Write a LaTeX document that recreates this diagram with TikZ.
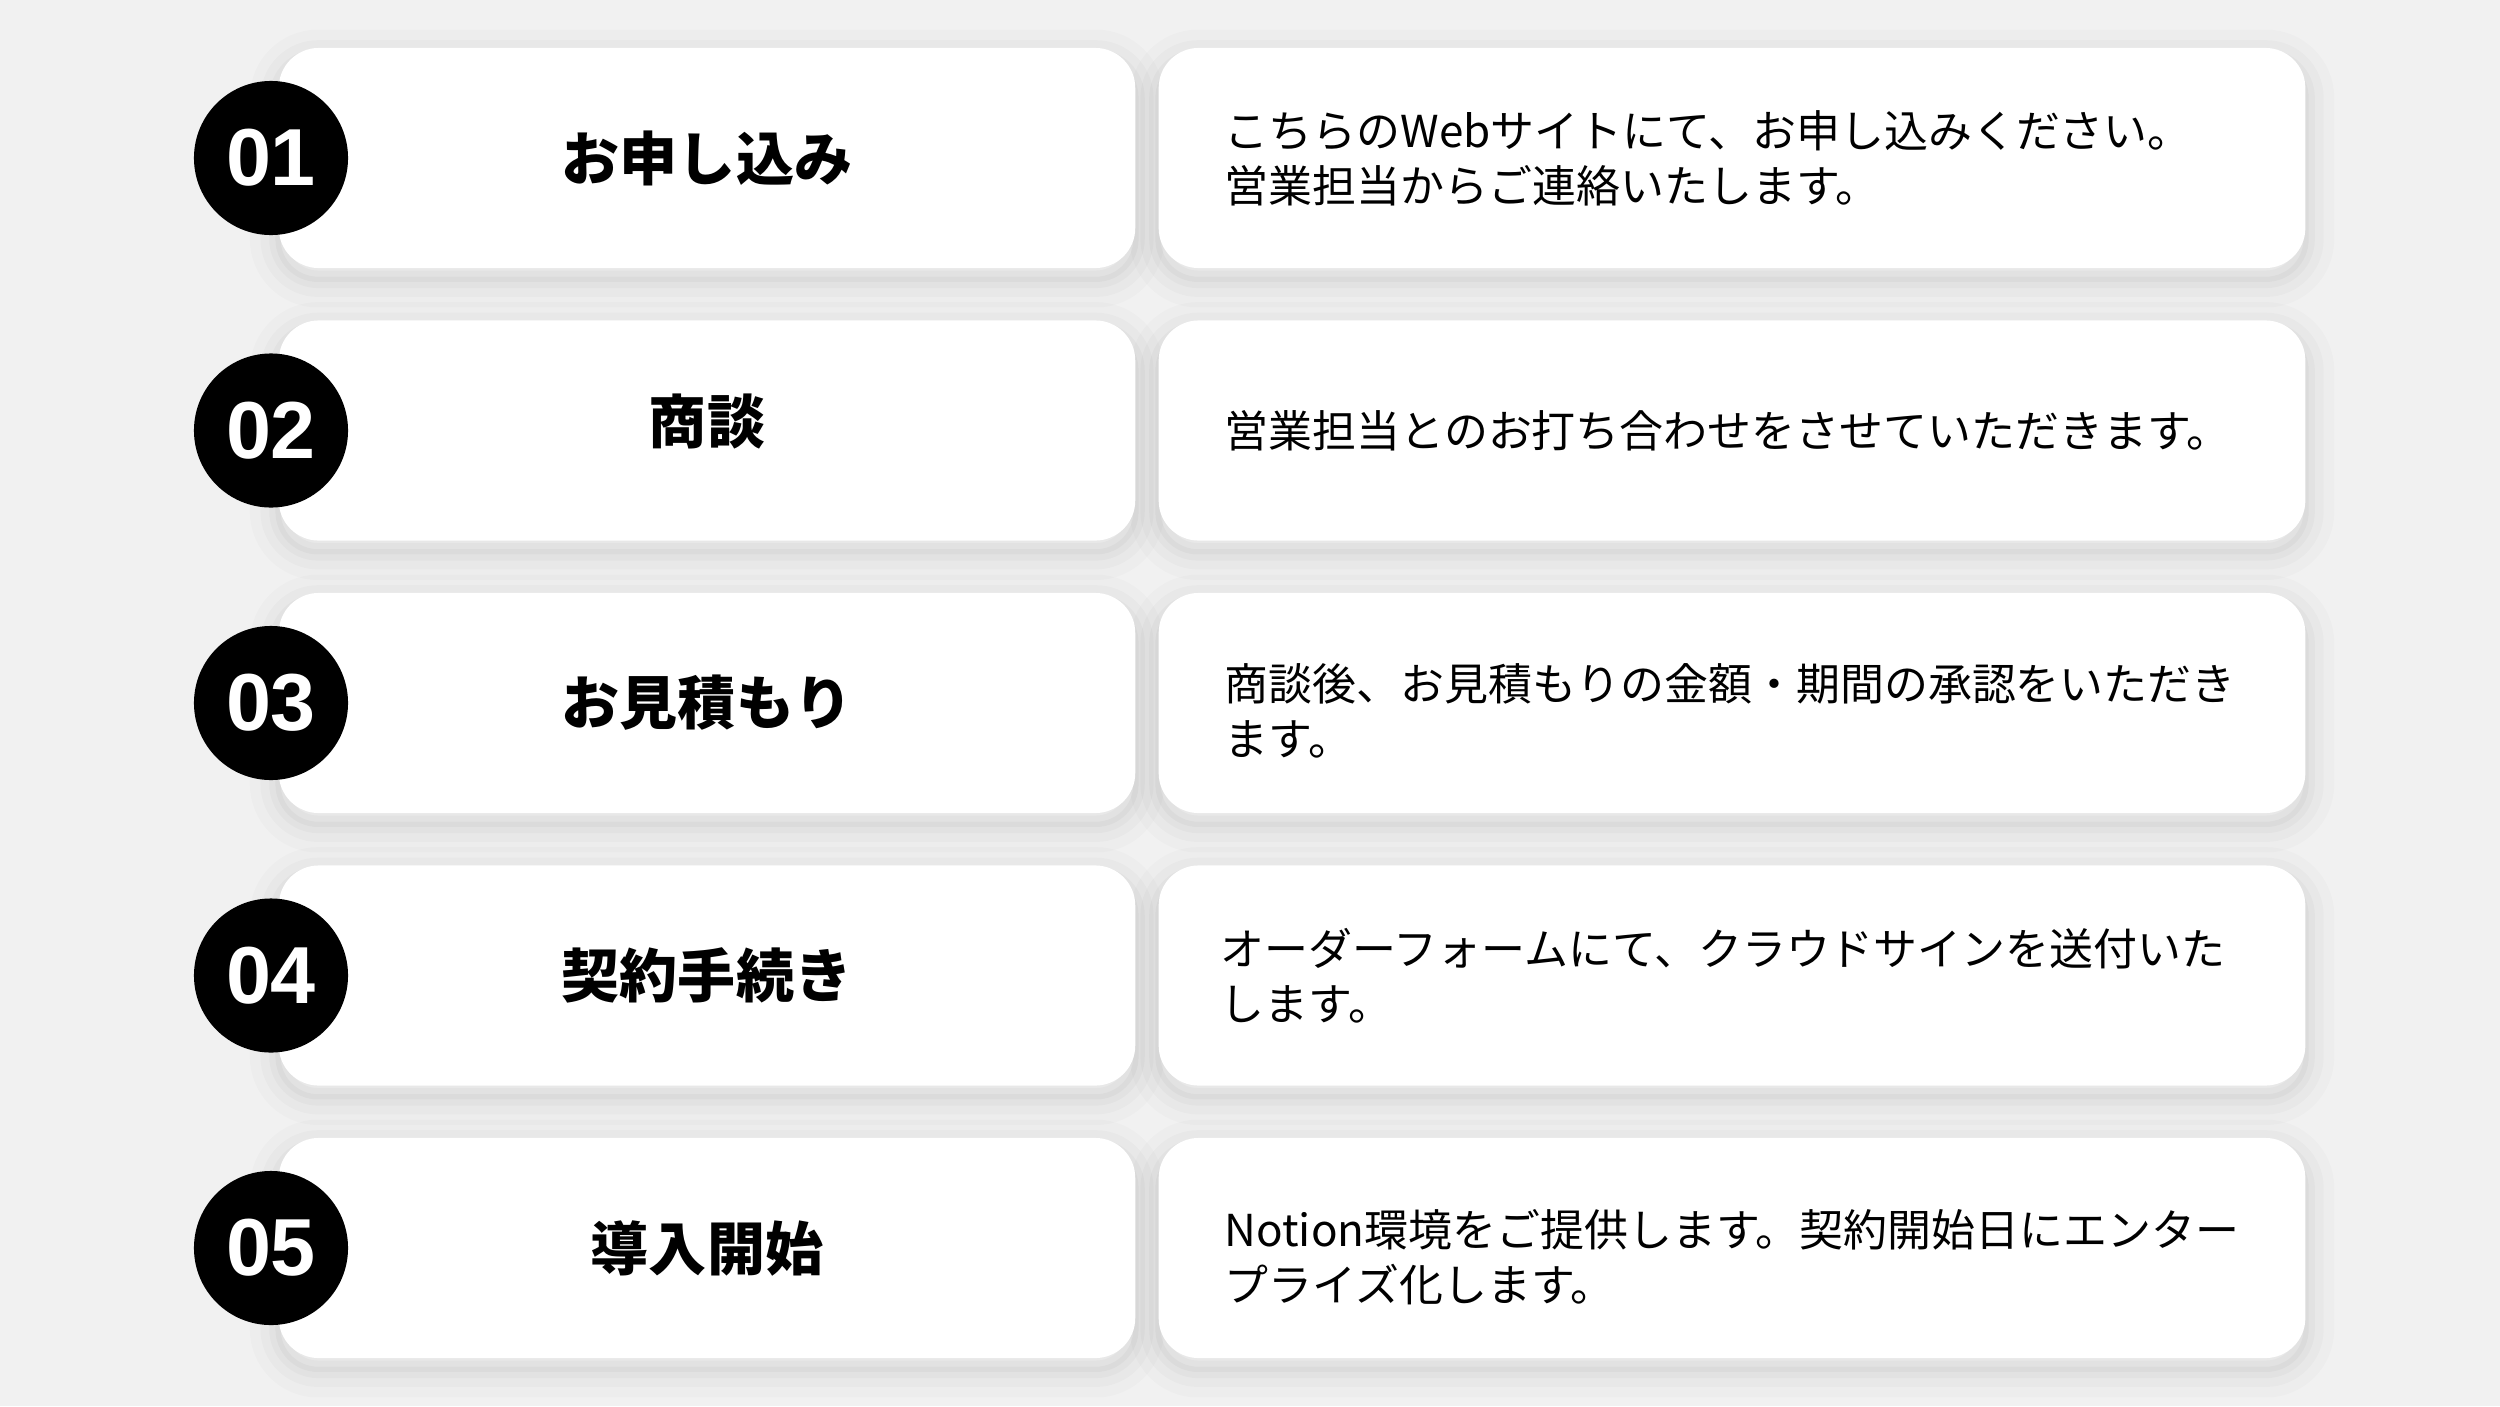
\documentclass[tikz,border=0pt]{standalone}
\usepackage{fontspec}
\setmainfont{Noto Sans CJK JP}
\newfontfamily\numfont{Liberation Sans}
\usetikzlibrary{positioning,backgrounds}
\definecolor{pagebg}{HTML}{F1F1F1}
\tikzset{every node/.style={align=center}}
\tikzstyle{card} = [rectangle, rounded corners=0.4cm, fill=white, inner sep=0pt]
\tikzstyle{stepcard} = [card, minimum width=8.56cm, minimum height=2.2cm, font=\bfseries\fontsize{16.5}{20}\selectfont]
\tikzstyle{desccard} = [card, minimum width=11.46cm, minimum height=2.2cm]
\tikzstyle{numdot} = [circle, fill=black, minimum size=1.54cm, inner sep=0pt, text=white, font=\numfont\bfseries\fontsize{23}{23}\selectfont]
\tikzstyle{desctext} = [align=left, inner sep=0pt, font=\fontsize{12.5}{15.6}\selectfont]
\tikzstyle{softshadow} = [rounded corners=0.4cm, black,
  preaction={draw, line width=16pt, draw opacity=0.016},
  preaction={draw, line width=10pt, draw opacity=0.02},
  preaction={draw, line width=5pt, draw opacity=0.024},
  preaction={draw, line width=1.5pt, draw opacity=0.026}]

\begin{document}
\begin{tikzpicture}[x=0.01cm, y=0.01cm]
		% Cards
		\node[stepcard] (step1) at (707,-158) {お申し込み};
		\node[stepcard] (step2) at (707,-430.5) {\raisebox{0.24cm}{商談}};
		\node[stepcard] (step3) at (707,-703) {お見積もり};
		\node[stepcard] (step4) at (707,-975.5) {契約手続き};
		\node[stepcard] (step5) at (707,-1248) {導入開始};
		%% Descriptions
		\node[desccard] (desc1) at (1732,-158) {};
		\node[desccard] (desc2) at (1732,-430.5) {};
		\node[desccard] (desc3) at (1732,-703) {};
		\node[desccard] (desc4) at (1732,-975.5) {};
		\node[desccard] (desc5) at (1732,-1248) {};
		
		% Nodes
		\node[desctext, right=0.66cm of desc1.west] (text1) {こちらのWebサイトにて、お申し込みください。\\営業担当からご連絡いたします。};
		\node[desctext, right=0.66cm of desc2.west] (text2) {営業担当とのお打ち合わせをさせていただきます。};
		\node[desctext, right=0.66cm of desc3.west, yshift=-0.08cm] (text3) {商談後、お見積もりの金額・期間の承認をいただき\\ます。};
		\node[desctext, right=0.62cm of desc4.west] (text4) {オーダーフォームにて、クラウドサインを送付いた\\します。};
		\node[desctext, right=0.66cm of desc5.west, yshift=-0.09cm] (text5) {Notion環境をご提供します。契約開始日にエンター\\プライズ化します。};
		%% Numbers
		\node[numdot] (num1) at (271,-158) {01};
		\node[numdot] (num2) at (271,-430.5) {02};
		\node[numdot] (num3) at (271,-703) {03};
		\node[numdot] (num4) at (271,-975.5) {04};
		\node[numdot] (num5) at (271,-1248) {05};
		
		% Background and shadows
		\begin{pgfonlayer}{background}
			\fill[pagebg] (0,0) rectangle (2500,-1406);
			\foreach \c in {step1,step2,step3,step4,step5,desc1,desc2,desc3,desc4,desc5}
				\path[softshadow] ([yshift=-3pt]\c.south west) rectangle ([yshift=-3pt]\c.north east);
		\end{pgfonlayer}
		\useasboundingbox (0,0) rectangle (2500,-1406);
	\end{tikzpicture}
\end{document}
